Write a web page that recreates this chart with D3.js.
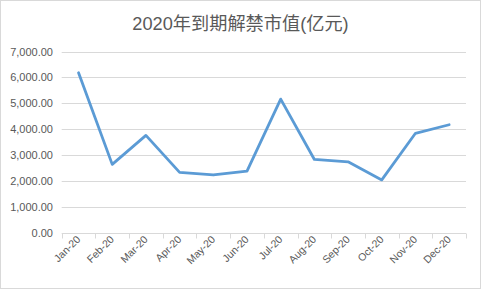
<!DOCTYPE html>
<html>
<head>
<meta charset="utf-8">
<script src="https://cdn.jsdelivr.net/npm/d3@7"></script>
<style>
  body { margin: 0; background: #fff; }
  svg { display: block; font-family: "Liberation Sans", "Noto Sans CJK SC", sans-serif; }
</style>
</head>
<body>
<div id="vis"></div>
<script>
const width = 481, height = 289;

// data
const months = ['Jan-20', 'Feb-20', 'Mar-20', 'Apr-20', 'May-20', 'Jun-20',
                'Jul-20', 'Aug-20', 'Sep-20', 'Oct-20', 'Nov-20', 'Dec-20'];
const values = [6180, 2640, 3760, 2330, 2230, 2380, 5160, 2830, 2740, 2040, 3840, 4170];
const yTicks = [0, 1000, 2000, 3000, 4000, 5000, 6000, 7000];
const title = '2020年到期解禁市值(亿元)';

const plot = { left: 61.7, right: 466, top: 51.5, bottom: 232.7 };

const svg = d3.select('#vis').append('svg')
  .attr('width', width)
  .attr('height', height);

// outer border
svg.append('rect')
  .attr('x', 0.5).attr('y', 0.5)
  .attr('width', width - 1).attr('height', height - 1)
  .attr('fill', '#fff')
  .attr('stroke', '#d9d9d9');

svg.append('text')
  .attr('x', 240.5).attr('y', 30)
  .attr('text-anchor', 'middle')
  .attr('font-size', 18.2)
  .attr('fill', '#595959')
  .text(title);

const x = d3.scaleBand().domain(months).range([plot.left, plot.right]);
const y = d3.scaleLinear().domain([0, 7000]).range([plot.bottom, plot.top]);

// gridlines
svg.append('g').selectAll('line')
  .data(yTicks.filter(d => d > 0))
  .join('line')
  .attr('x1', plot.left).attr('x2', plot.right)
  .attr('y1', d => Math.round(y(d)) + 0.5)
  .attr('y2', d => Math.round(y(d)) + 0.5)
  .attr('stroke', '#d9d9d9');

// y labels
svg.append('g').selectAll('text')
  .data(yTicks)
  .join('text')
  .attr('x', 53)
  .attr('y', d => y(d) + 4)
  .attr('text-anchor', 'end')
  .attr('font-size', 11)
  .attr('fill', '#595959')
  .text(d => d3.format(',.2f')(d));

// x axis line and ticks
const base = Math.round(plot.bottom) + 0.5;
svg.append('line')
  .attr('x1', plot.left).attr('x2', plot.right)
  .attr('y1', base).attr('y2', base)
  .attr('stroke', '#d9d9d9');

const bounds = months.map(m => x(m)).concat([plot.right]);
svg.append('g').selectAll('line')
  .data(bounds)
  .join('line')
  .attr('x1', d => Math.round(d) + 0.5).attr('x2', d => Math.round(d) + 0.5)
  .attr('y1', base).attr('y2', base + 5)
  .attr('stroke', '#d9d9d9');

// x labels
svg.append('g').selectAll('text')
  .data(months)
  .join('text')
  .attr('transform', d => `translate(${x(d) + x.bandwidth() / 2 + 2.5},${240}) rotate(-45)`)
  .attr('text-anchor', 'end')
  .attr('font-size', 10.5)
  .attr('fill', '#595959')
  .text(d => d);

// the series line
const line = d3.line()
  .x((d, i) => x(months[i]) + x.bandwidth() / 2)
  .y(d => y(d));

svg.append('path')
  .datum(values)
  .attr('d', line)
  .attr('fill', 'none')
  .attr('stroke', '#5b9bd5')
  .attr('stroke-width', 2.8)
  .attr('stroke-linejoin', 'round')
  .attr('stroke-linecap', 'round');
</script>
</body>
</html>
